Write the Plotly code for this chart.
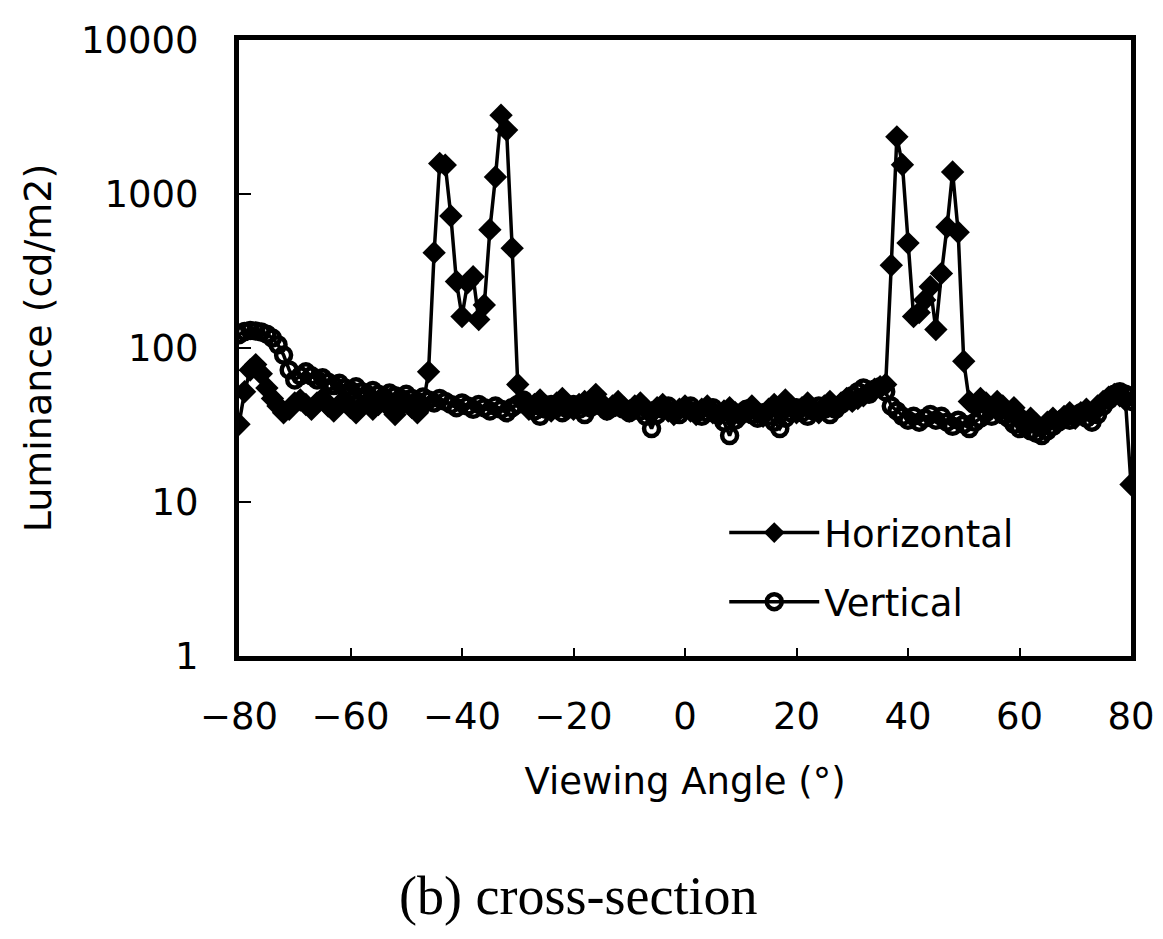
import plotly.graph_objects as go

angles = list(range(-80, 81))

horizontal = [
    32, 52, 72, 78, 68, 55, 47, 42, 38, 40,          # -80..-71
    44, 46, 43, 40, 44, 47, 42, 39, 43, 46,          # -70..-61
    41, 38, 42, 45, 40, 43, 46, 41, 37, 42,          # -60..-51
    45, 41, 38, 42, 70, 416, 1580, 1540, 720, 270,   # -50..-41
    160, 265, 290, 153, 190, 587, 1290, 3250, 2600, 445,  # -40..-31
    58, 44, 40, 43, 46, 42, 39, 44, 47, 42,          # -30..-21
    40, 43, 45, 41, 50, 44, 40, 42, 45, 41,          # -20..-11
    39, 42, 44, 40, 38, 41, 43, 39, 37, 40,          # -10..-1
    42, 39, 37, 40, 42, 38, 36, 39, 41, 38,          # 0..9
    36, 39, 42, 38, 36, 40, 43, 39, 46, 42,          # 10..19
    38, 41, 44, 40, 38, 42, 45, 41, 44, 47,          # 20..29
    45, 47, 49, 52, 54, 56, 58, 345, 2350, 1550,     # 30..39
    480, 160, 170, 205, 250, 132, 305, 610, 1390, 565,  # 40..49
    82, 45, 42, 47, 44, 41, 45, 42, 38, 41,          # 50..59
    36, 33, 35, 32, 30, 33, 35, 33, 36, 38,          # 60..69
    35, 38, 40, 37, 42, 45, 48, 50, 49, 46,          # 70..79
    13,                                              # 80
]

vertical = [
    122, 128, 130, 129, 127, 123, 116, 105, 90, 72,  # -80..-71
    62, 66, 70, 66, 62, 64, 60, 57, 59, 55,          # -70..-61
    53, 56, 52, 50, 53, 50, 48, 51, 49, 47,          # -60..-51
    50, 47, 45, 48, 46, 44, 47, 45, 43, 41,          # -50..-41
    44, 42, 40, 43, 41, 39, 42, 40, 38, 41,          # -40..-31
    43, 46, 42, 39, 36, 40, 43, 41, 38, 40,          # -30..-21
    43, 40, 37, 41, 44, 42, 39, 41, 43, 40,          # -20..-11
    38, 41, 39, 36, 30, 37, 40, 42, 39, 37,          # -10..-1
    40, 42, 39, 36, 38, 41, 37, 33, 27, 34,          # 0..9
    38, 40, 37, 35, 38, 36, 33, 30, 35, 38,          # 10..19
    41, 38, 36, 39, 42, 40, 37, 40, 43, 46,          # 20..29
    49, 52, 55, 50, 54, 56, 52, 42, 39, 36,          # 30..39
    34, 36, 33, 35, 37, 34, 36, 33, 31, 34,          # 40..49
    32, 30, 33, 35, 38, 36, 40, 37, 35, 32,          # 50..59
    30, 31, 29, 28, 27, 29, 31, 33, 35, 34,          # 60..69
    36, 38, 35, 33, 37, 42, 46, 50, 52, 50,          # 70..79
    45,                                              # 80
]

x_ticks = [-80, -60, -40, -20, 0, 20, 40, 60, 80]
y_ticks = [1, 10, 100, 1000, 10000]
y_tick_text = ["1", "10", "100", "1000", "10000"]

FONT = "DejaVu Sans"

fig = go.Figure()
fig.add_trace(go.Scatter(
    x=angles, y=horizontal, name="Horizontal", mode="lines+markers",
    line=dict(color="black", width=3.5),
    marker=dict(symbol="diamond", size=18, color="black"),
    legendgroup="h",
))
fig.add_trace(go.Scatter(
    x=angles, y=vertical, name="Vertical", mode="lines+markers",
    line=dict(color="black", width=3.5),
    marker=dict(symbol="circle-open", size=15, color="black",
                line=dict(width=4.5, color="black")),
    legendgroup="v",
))

fig.update_layout(
    width=1163, height=939,
    paper_bgcolor="white", plot_bgcolor="white",
    margin=dict(l=231, r=40, t=32, b=291),
    font=dict(family=FONT, size=37, color="black"),
    showlegend=True,
    legend=dict(
        x=0.544, y=0.25, xanchor="left", yanchor="top",
        bgcolor="rgba(0,0,0,0)", font=dict(family=FONT, size=37),
        itemwidth=90, tracegroupgap=18,
    ),
    xaxis=dict(
        range=[-80, 80], tickvals=x_ticks,
        ticks="inside", ticklen=8, tickwidth=1.5, tickcolor="black",
        showline=True, linecolor="black", linewidth=5, mirror=True,
        showgrid=False, zeroline=False,
        tickfont=dict(family=FONT, size=37),
        ticklabelstandoff=24,
        title=dict(text="Viewing Angle (°)", font=dict(family=FONT, size=37), standoff=32),
    ),
    yaxis=dict(
        type="log", range=[0, 4], tickvals=y_ticks, ticktext=y_tick_text,
        ticks="inside", ticklen=12, tickwidth=2, tickcolor="black",
        showline=True, linecolor="black", linewidth=5, mirror=True,
        showgrid=False, zeroline=False,
        tickfont=dict(family=FONT, size=37),
        ticklabelstandoff=28,
        title=dict(text="Luminance (cd/m2)", font=dict(family=FONT, size=38), standoff=19),
    ),
    annotations=[dict(
        text="(b) cross-section", xref="paper", yref="paper",
        x=0.38, y=-0.39, xanchor="center", yanchor="middle",
        showarrow=False, font=dict(family="Liberation Serif", size=54, color="black"),
    )],
)

fig.write_html("out.html")
